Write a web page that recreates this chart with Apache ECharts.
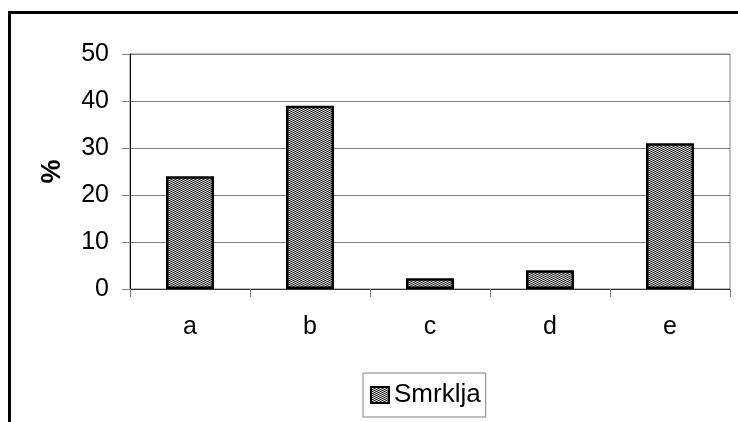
<!DOCTYPE html>
<html>
<head>
<meta charset="utf-8">
<script src="https://cdn.jsdelivr.net/npm/echarts@6/dist/echarts.min.js"></script>
<style>
  html, body { margin: 0; padding: 0; background: #fff; }
  #chart { width: 738px; height: 422px; }
</style>
</head>
<body>
<div id="chart"></div>
<script>
// Chart data
const categories = ['a', 'b', 'c', 'd', 'e'];
const seriesName = 'Smrklja';
const values = [24, 39, 2.3, 4, 31];
const yTicks = { min: 0, max: 50, interval: 10 };

// Dithered grey fill used for the bars and the legend swatch
function makePattern() {
  const c = document.createElement('canvas');
  c.width = 4; c.height = 2;
  const ctx = c.getContext('2d');
  const rows = [
    ['#808080', '#000000', '#808080', '#ffffff'],
    ['#808080', '#ffffff', '#808080', '#000000']
  ];
  rows.forEach((row, y) => row.forEach((col, x) => {
    ctx.fillStyle = col;
    ctx.fillRect(x, y, 1, 1);
  }));
  return c;
}
const fill = { image: makePattern(), repeat: 'repeat' };

const font = 'Liberation Sans, Arial, sans-serif';
const chart = echarts.init(document.getElementById('chart'), null, { renderer: 'canvas' });

chart.setOption({
  animation: false,
  backgroundColor: '#ffffff',
  textStyle: { fontFamily: font },
  grid: {
    left: 130, right: 8, top: 54, bottom: 133,
    show: true, borderColor: '#808080', borderWidth: 1
  },
  xAxis: {
    type: 'category',
    data: categories,
    axisLine: { lineStyle: { color: '#333333', width: 1 } },
    axisTick: { show: true, length: 8, lineStyle: { color: '#808080' } },
    axisLabel: { color: '#000', fontSize: 25, margin: 26, fontFamily: font },
    splitLine: { show: false }
  },
  yAxis: {
    type: 'value',
    min: yTicks.min, max: yTicks.max, interval: yTicks.interval,
    name: '%',
    nameLocation: 'middle',
    nameRotate: 90,
    nameGap: 64,
    nameTextStyle: { color: '#000', fontSize: 27, fontWeight: 'bold', fontFamily: font },
    axisLine: { show: true, lineStyle: { color: '#000', width: 1 } },
    axisTick: { show: true, length: 8, lineStyle: { color: '#808080' } },
    axisLabel: { color: '#000', fontSize: 25, margin: 21, fontFamily: font },
    splitLine: { show: true, lineStyle: { color: '#808080', width: 1 } }
  },
  legend: {
    data: [seriesName],
    left: 363, top: 373,
    orient: 'horizontal',
    backgroundColor: '#fff',
    borderColor: '#808080',
    borderWidth: 1,
    borderRadius: 0,
    padding: [9, 5, 9, 7],
    itemWidth: 18, itemHeight: 16,
    icon: 'rect',
    textStyle: { color: '#000', fontSize: 26, fontFamily: font }
  },
  series: [{
    name: seriesName,
    type: 'bar',
    data: values,
    barWidth: '40%',
    itemStyle: { color: fill, borderColor: '#000', borderWidth: 2.5 }
  }],
  graphic: [{
    type: 'rect',
    silent: true,
    shape: { x: 9.5, y: 12.5, width: 800, height: 500 },
    style: { fill: 'none', stroke: '#000', lineWidth: 3 }
  }]
});
</script>
</body>
</html>
